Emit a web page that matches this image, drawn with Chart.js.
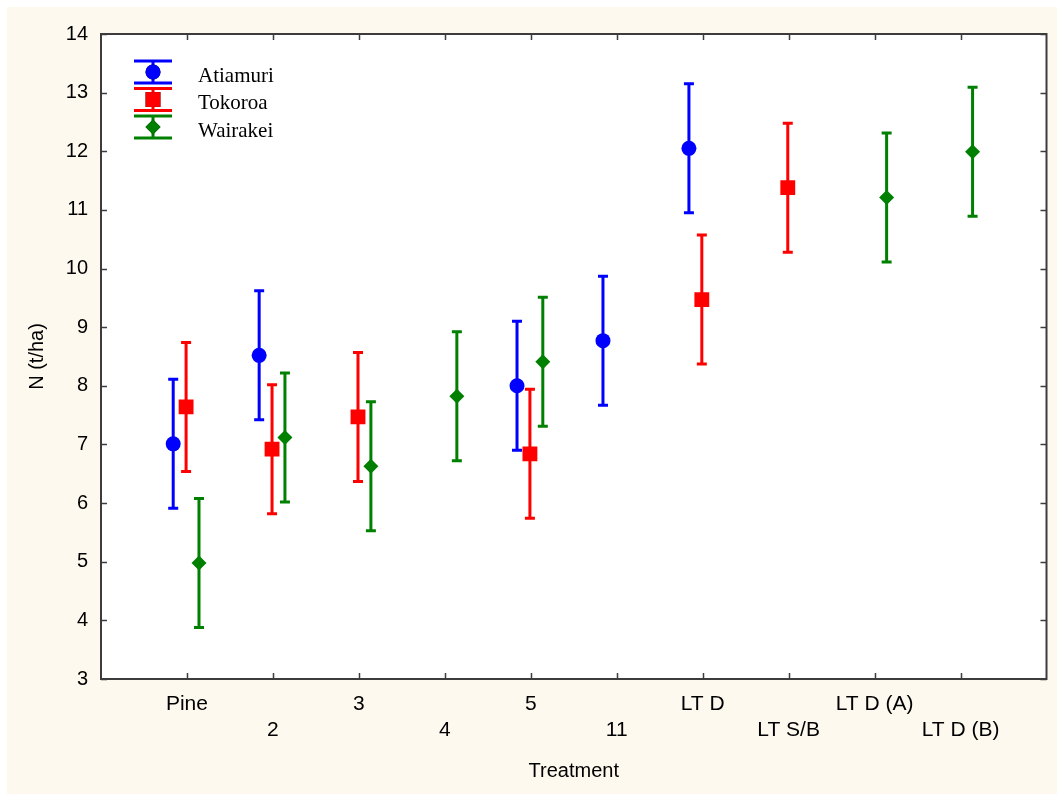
<!DOCTYPE html>
<html>
<head>
<meta charset="utf-8">
<script src="https://cdn.jsdelivr.net/npm/chart.js@4.4.1/dist/chart.umd.min.js"></script>
<style>
  html, body { margin: 0; padding: 0; background: #ffffff; }
  #wrap { position: absolute; left: 7px; top: 7px; width: 1050px; height: 787px; background: #fdf9ef; }
  canvas { display: block; }
</style>
</head>
<body>
<div id="wrap"><canvas id="chart" width="1050" height="787"></canvas></div>
<script>
// Treatments along the x axis
var treatments = ['Pine', '2', '3', '4', '5', '11', 'LT D', 'LT S/B', 'LT D (A)', 'LT D (B)'];

// Mean N (t/ha) per site, null where the site has no plot
var atiamuri = [7.01, 8.52, null, null, 8.00, 8.77, 12.05, null, null, null];
var tokoroa  = [7.64, 6.92, 7.47, null, 6.84, null, 9.47, 11.38, null, null];
var wairakei = [4.98, 7.12, 6.63, 7.82, 8.41, null, null, null, 11.21, 11.99];

// Half width of each error bar
var atiamuriErr = [1.1, 1.1, null, null, 1.1, 1.1, 1.1, null, null, null];
var tokoroaErr  = [1.1, 1.1, 1.1, null, 1.1, null, 1.1, 1.1, null, null];
var wairakeiErr = [1.1, 1.1, 1.1, 1.1, 1.1, null, null, null, 1.1, 1.1];

var yTicks = [3, 4, 5, 6, 7, 8, 9, 10, 11, 12, 13, 14];

function toPoints(values, errs, shift) {
  var pts = [];
  values.forEach(function(v, i) {
    if (v !== null) pts.push({ x: i + 1 + shift, y: v, err: errs[i] });
  });
  return pts;
}

var sites = [
  { label: 'Atiamuri', values: atiamuri, errs: atiamuriErr, color: '#0000ff', style: 'circle',  radius: 7.5, shift: -0.16 },
  { label: 'Tokoroa',  values: tokoroa,  errs: tokoroaErr,  color: '#ff0000', style: 'rect',    radius: 10.5, shift: -0.01 },
  { label: 'Wairakei', values: wairakei, errs: wairakeiErr, color: '#008000', style: 'rectRot', radius: 7.5, shift: 0.14 }
];

var datasets = sites.map(function(s) {
  return {
    label: s.label,
    data: toPoints(s.values, s.errs, s.shift),
    pointStyle: s.style,
    pointRadius: s.radius,
    pointHoverRadius: s.radius,
    backgroundColor: s.color,
    borderColor: s.color,
    borderWidth: 0,
    showLine: false
  };
});

// white plot area on the cream background
var plotBackground = {
  id: 'plotBackground',
  beforeDraw: function(chart) {
    var a = chart.chartArea, ctx = chart.ctx;
    ctx.save();
    ctx.fillStyle = '#ffffff';
    ctx.fillRect(a.left, a.top, a.right - a.left, a.bottom - a.top);
    ctx.restore();
  }
};

// vertical error bars with caps, drawn under the markers
var errorBars = {
  id: 'errorBars',
  beforeDatasetsDraw: function(chart) {
    var ctx = chart.ctx, xs = chart.scales.x, ys = chart.scales.y;
    ctx.save();
    ctx.lineWidth = 3;
    chart.data.datasets.forEach(function(ds) {
      ctx.strokeStyle = ds.borderColor;
      ds.data.forEach(function(p) {
        var px = xs.getPixelForValue(p.x);
        var top = ys.getPixelForValue(p.y + p.err);
        var bot = ys.getPixelForValue(p.y - p.err);
        ctx.beginPath();
        ctx.moveTo(px, top); ctx.lineTo(px, bot);
        ctx.moveTo(px - 5, top); ctx.lineTo(px + 5, top);
        ctx.moveTo(px - 5, bot); ctx.lineTo(px + 5, bot);
        ctx.stroke();
      });
    });
    ctx.restore();
  }
};

// frame with inward ticks on all four sides
var frame = {
  id: 'frame',
  afterDatasetsDraw: function(chart) {
    var a = chart.chartArea, ctx = chart.ctx, xs = chart.scales.x, ys = chart.scales.y;
    ctx.save();
    ctx.strokeStyle = '#3c3c3c';
    ctx.lineWidth = 1.5;
    ctx.beginPath();
    xs.ticks.forEach(function(t) {
      var px = Math.round(xs.getPixelForValue(t.value)) + 0.5;
      ctx.moveTo(px, a.top); ctx.lineTo(px, a.top + 6);
      ctx.moveTo(px, a.bottom); ctx.lineTo(px, a.bottom - 6);
    });
    ys.ticks.forEach(function(t) {
      var py = Math.round(ys.getPixelForValue(t.value)) + 0.5;
      ctx.moveTo(a.left, py); ctx.lineTo(a.left + 6, py);
      ctx.moveTo(a.right, py); ctx.lineTo(a.right - 6, py);
    });
    ctx.stroke();
    ctx.lineWidth = 2;
    ctx.strokeRect(a.left, a.top, a.right - a.left, a.bottom - a.top);
    ctx.restore();
  }
};

// legend with error-bar symbols
var siteLegend = {
  id: 'siteLegend',
  afterDraw: function(chart) {
    var ctx = chart.ctx;
    var x0 = 127, y0 = 65, rowH = 27.5;
    ctx.save();
    chart.data.datasets.forEach(function(ds, i) {
      var cy = y0 + i * rowH;
      ctx.strokeStyle = ds.borderColor;
      ctx.lineWidth = 3;
      ctx.beginPath();
      ctx.moveTo(x0, cy - 11); ctx.lineTo(x0 + 38, cy - 11);
      ctx.moveTo(x0, cy + 11); ctx.lineTo(x0 + 38, cy + 11);
      ctx.moveTo(x0 + 19, cy - 11); ctx.lineTo(x0 + 19, cy + 11);
      ctx.stroke();
      Chart.helpers.drawPoint(ctx, {
        pointStyle: ds.pointStyle, radius: ds.pointRadius, borderWidth: 0, rotation: 0
      }, x0 + 19, cy);
      ctx.fillStyle = ds.backgroundColor;
      ctx.fill();
      ctx.fillStyle = '#000000';
      ctx.font = '21px "Liberation Serif", "Times New Roman", serif';
      ctx.textBaseline = 'middle';
      ctx.textAlign = 'left';
      ctx.fillText(ds.label, x0 + 64, cy + 4);
    });
    ctx.restore();
  }
};

new Chart(document.getElementById('chart'), {
  type: 'scatter',
  data: { datasets: datasets },
  plugins: [plotBackground, errorBars, frame, siteLegend],
  options: {
    responsive: false,
    animation: false,
    events: [],
    layout: { padding: { top: 27, right: 8, left: 0, bottom: 0 } },
    plugins: { legend: { display: false }, tooltip: { enabled: false } },
    scales: {
      x: {
        type: 'linear',
        min: 0,
        max: 11,
        afterBuildTicks: function(scale) {
          scale.ticks = treatments.map(function(t, i) { return { value: i + 1 }; });
        },
        afterFit: function(scale) { scale.height = 115; },
        grid: { display: false, drawTicks: false },
        border: { display: false },
        ticks: {
          padding: 12,
          maxRotation: 0,
          autoSkip: false,
          color: '#000000',
          font: { family: '"Liberation Sans", Arial, sans-serif', size: 21, lineHeight: '26px' },
          callback: function(v) {
            var name = treatments[v - 1];
            return (v - 1) % 2 === 0 ? [name, ''] : ['', name];
          }
        },
        title: {
          display: true,
          text: 'Treatment',
          color: '#000000',
          font: { family: '"Liberation Sans", Arial, sans-serif', size: 20 },
          padding: { top: 0, bottom: 11 }
        }
      },
      y: {
        min: 3,
        max: 14,
        afterBuildTicks: function(scale) {
          scale.ticks = yTicks.map(function(v) { return { value: v }; });
        },
        afterFit: function(scale) { scale.width = 94; },
        grid: { display: false, drawTicks: false },
        border: { display: false },
        ticks: {
          padding: 13,
          color: '#000000',
          font: { family: '"Liberation Sans", Arial, sans-serif', size: 20 }
        },
        title: {
          display: true,
          text: 'N (t/ha)',
          color: '#000000',
          font: { family: '"Liberation Sans", Arial, sans-serif', size: 20 },
          padding: { top: 18, bottom: 0 }
        }
      }
    }
  }
});
</script>
</body>
</html>
